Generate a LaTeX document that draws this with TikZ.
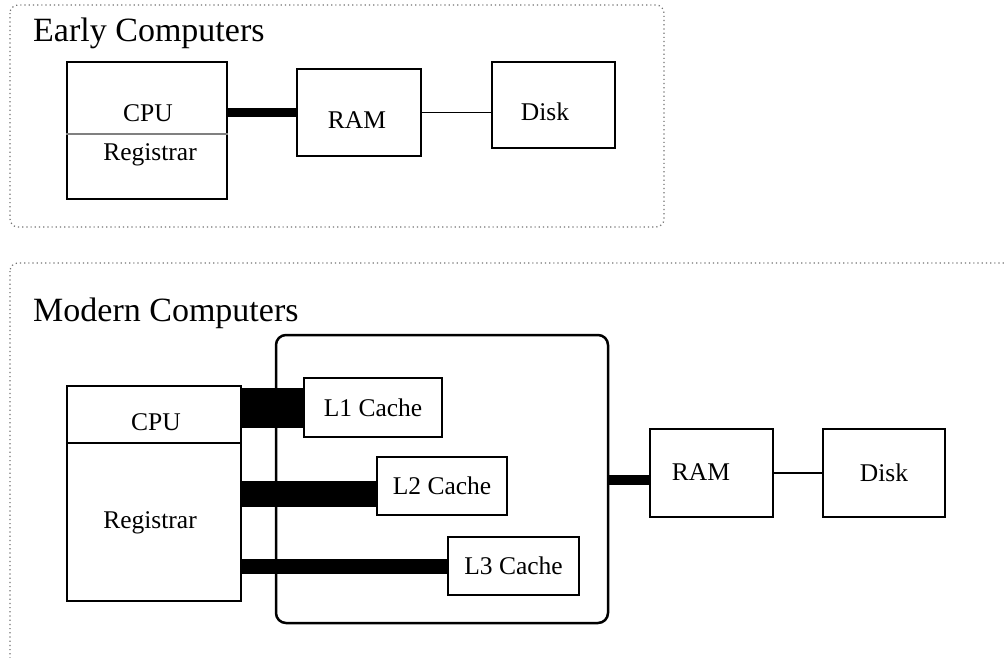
\documentclass[tikz,border=0pt]{standalone}
\usepackage{fontspec}
\setmainfont{Liberation Serif}
\usetikzlibrary{calc}
\tikzset{
  frame/.style={draw=black!55, line width=1.2pt, dash pattern=on 1.2pt off 3pt, rounded corners=8pt},
  box/.style={draw, line width=2.5pt, rectangle, inner sep=0pt},
  lbl/.style={font=\fontsize{25.5}{30}\selectfont, inner sep=0pt},
  title/.style={font=\fontsize{34}{40}\selectfont, inner sep=0pt, anchor=base west},
  thinline/.style={line width=1.2pt},
}
\begin{document}
\begin{tikzpicture}[x=1pt,y=-1pt]
\clip (0,0) rectangle (1004,657);
\path[fill=white] (0,0) rectangle (1004,657);
% ---------- Early computers ----------
\draw[frame] (10,5) rectangle (664,227);
\node[title] (t1) at (33,41) {Early Computers};
\node[box, minimum width=160pt, minimum height=137pt] (ecpu) at (147,130.5) {};
\coordinate (ediv) at (0,134);
\draw[line width=1.5pt, gray] (ecpu.west |- ediv) -- (ecpu.east |- ediv);
\node[lbl] (ecputxt) at (148,113) {CPU};
\node[lbl] (eregtxt) at (150,155) {Registrar};
\node[box, minimum width=124pt, minimum height=87pt] (eram) at (359,112.5) {};
\node[lbl] (eramtxt) at (357,120) {RAM};
\node[box, minimum width=123pt, minimum height=86pt] (edisk) at (553.5,105) {};
\node[lbl] (edisktxt) at (545,112) {Disk};
\draw[line width=9pt] (ecpu.east |- eram.west) -- (eram.west);
\draw[thinline] (eram.east) -- (edisk.west |- eram.east);
% ---------- Modern computers ----------
\draw[frame] (10,263) rectangle (1030,690);
\node[title] (t2) at (33,321) {Modern Computers};
\node[box, minimum width=174pt, minimum height=215pt] (mcpu) at (154,493.5) {};
\coordinate (mdiv) at (0,443);
\draw[line width=2.5pt] (mcpu.west |- mdiv) -- (mcpu.east |- mdiv);
\node[lbl] (mcputxt) at (156,422) {CPU};
\node[lbl] (mregtxt) at (150,523) {Registrar};
\node[box, rounded corners=10pt, minimum width=332pt, minimum height=288pt] (cont) at (442,479) {};
\node[box, lbl, minimum width=138pt, minimum height=59pt] (l1) at (373,407.5) {L1 Cache};
\node[box, lbl, minimum width=130pt, minimum height=58pt] (l2) at (442,486) {L2 Cache};
\node[box, lbl, minimum width=131pt, minimum height=58pt] (l3) at (513.5,566) {L3 Cache};
\draw[line width=40pt] (mcpu.east |- l1.west) -- (l1.west);
\coordinate (b2) at ($(l2.west)+(0,8)$);
\draw[line width=26pt] (mcpu.east |- b2) -- (b2);
\draw[line width=15pt] (mcpu.east |- l3.west) -- (l3.west);
\node[box, minimum width=123pt, minimum height=88pt] (mram) at (711.5,473) {};
\node[lbl] (mramtxt) at (701,472) {RAM};
\node[box, lbl, minimum width=122pt, minimum height=88pt] (mdisk) at (884,473) {Disk};
\coordinate (rb) at ($(mram.west)+(0,7)$);
\draw[line width=10pt] (cont.east |- rb) -- (rb);
\draw[thinline] (mram.east) -- (mdisk.west |- mram.east);
\end{tikzpicture}
\end{document}
